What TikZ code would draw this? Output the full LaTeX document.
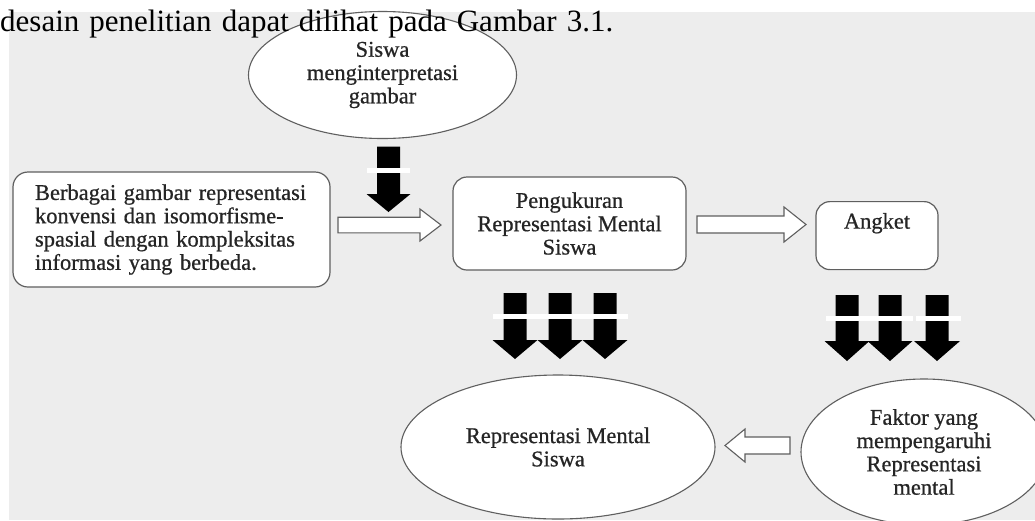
\documentclass[tikz,border=0pt]{standalone}
\usepackage{fontspec}
\setmainfont{Liberation Serif}
\newfontfamily\diagfont[FakeBold=0.7]{Liberation Serif}
\usetikzlibrary{shapes.geometric}
\definecolor{bggray}{HTML}{EDEDED}
\definecolor{edgegray}{HTML}{5F5F5F}
\definecolor{txtgray}{HTML}{252525}
% hollow horizontal block arrow: start x, tip x, centre y, shaft half, head half, signed head length
\newcommand{\hollowH}[6]{%
  \draw[hollow] (#1,{#3-#4}) -- ({#2-(#6)},{#3-#4}) -- ({#2-(#6)},{#3-#5}) -- (#2,#3)
    -- ({#2-(#6)},{#3+#5}) -- ({#2-(#6)},{#3+#4}) -- (#1,{#3+#4}) -- cycle;}
% solid downward block arrow: centre x, top y, head base y, tip y, shaft half, head half
\newcommand{\blackDown}[6]{%
  \fill[black] ({#1-#5},#2) -- ({#1+#5},#2) -- ({#1+#5},#3) -- ({#1+#6},#3) -- (#1,#4)
    -- ({#1-#6},#3) -- ({#1-#5},#3) -- cycle;}
\begin{document}
\begin{tikzpicture}[x=1pt,y=-1pt,
  every node/.style={font=\diagfont\fontsize{22.5}{23.3}\selectfont, text=txtgray},
  boxstyle/.style={draw=edgegray, line width=1.2pt, fill=white, rounded corners=14pt, inner sep=0pt},
  ellstyle/.style={ellipse, draw=edgegray, line width=1.1pt, fill=white, inner sep=0pt, align=center},
  hollow/.style={draw=edgegray, line width=1.1pt, fill=white, line join=miter},
  whitebar/.style={white, line width=5pt}]
\useasboundingbox (0,0) rectangle (1035,520);
\clip (0,0) rectangle (1035,520);
\fill[white] (0,0) rectangle (1035,520);
\fill[bggray] (9,12) rectangle (1035,520);

% top ellipse
\node[ellstyle, minimum width=268pt, minimum height=127pt] (siswa) at (382.5,75)
  {Siswa\\menginterpretasi\\gambar};

% heading text
\node[anchor=base west, inner sep=0pt, font=\rmfamily\fontsize{31}{33}\selectfont, text=black] (head) at (0,31.7)
  {\makebox[613pt][s]{desain penelitian dapat dilihat pada Gambar 3.1.}};

% left box
\node[boxstyle, rounded corners=15pt, text width=273pt, inner xsep=22pt, minimum height=115pt, align=left] (gambar) at (171.5,229.5)
  {\makebox[273pt][s]{Berbagai gambar representasi}\\
   \makebox[273pt][s]{konvensi dan isomorfisme-}\\
   \makebox[273pt][s]{spasial dengan kompleksitas}\\
   informasi yang berbeda.};

% measurement box
\node[boxstyle, minimum width=233pt, minimum height=93pt, align=center] (ukur) at (569.5,223.5)
  {Pengukuran\\Representasi Mental\\Siswa};

% questionnaire box
\node[boxstyle, anchor=north, minimum width=122pt, text height=27pt, text depth=41pt] (angket) at (877,201)
  {Angket};

% bottom ellipses
\node[ellstyle, minimum width=314pt, minimum height=144pt] (rms) at (558,447)
  {Representasi Mental\\Siswa};
\node[ellstyle, minimum width=246pt, minimum height=146pt] (faktor) at (924,452)
  {Faktor yang\\mempengaruhi\\Representasi\\mental};

% hollow arrows
\hollowH{338}{441}{225}{7.8}{16}{21}
\hollowH{697}{806}{224.5}{8.5}{17.5}{22}
\hollowH{790}{725}{445.5}{8.5}{16.5}{-20}

% single black arrow
\blackDown{388.5}{146.5}{194}{212}{11.5}{22}
\draw[whitebar] (367,170.5) -- (410,170.5);

% left triple black arrows
\blackDown{515}{293}{340}{359}{11.5}{22.5}
\blackDown{560}{293}{340}{359}{11.5}{22.5}
\blackDown{605}{293}{340}{359}{11.5}{22.5}
\draw[whitebar] (493,316) -- (628,316);

% right triple black arrows
\blackDown{847}{295}{341}{361}{11.5}{22.5}
\blackDown{890}{295}{341}{361}{11.5}{22.5}
\blackDown{937}{295}{341}{361}{11.5}{23}
\draw[whitebar] (826,318.5) -- (913,318.5);
\draw[whitebar] (916,318.5) -- (961,318.5);
\end{tikzpicture}
\end{document}
